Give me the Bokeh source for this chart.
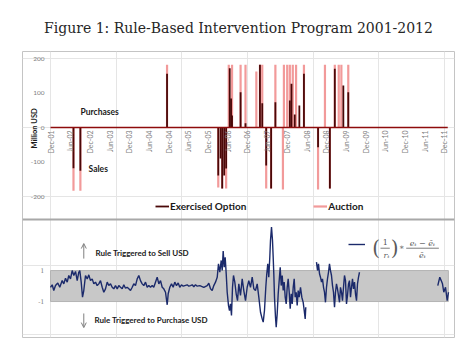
import numpy as np
from math import pi
from bokeh.plotting import figure
from bokeh.models import Range1d, Span, Label, Legend, LegendItem, Arrow, OpenHead
from bokeh.core.properties import value
from bokeh.embed import file_html
from bokeh.resources import INLINE

TITLE = "Figure 1: Rule-Based Intervention Program 2001-2012"

# x axis: months since Dec-2001
TICK_MONTHS = list(range(0, 121, 6))
TICK_LABELS = ["Dec-01", "Jun-02", "Dec-02", "Jun-03", "Dec-03", "Jun-04", "Dec-04",
               "Jun-05", "Dec-05", "Jun-06", "Dec-06", "Jun-07", "Dec-07", "Jun-08",
               "Dec-08", "Jun-09", "Dec-09", "Jun-10", "Dec-10", "Jun-11", "Dec-11"]
TOP_Y_TICKS = [200, 100, 0, -100, -200]
RULE_Y_TICKS = [1, -1]
BAND_LOW, BAND_HIGH = -1, 1

# interventions, million USD (+ purchases, - sales)
AUCTION_MONTHS = [7.0, 9.1, 35.5, 51.1, 52.3, 53.5, 54.3, 55.3, 57.9, 59.4, 62.7, 63.8, 64.5,
                  65.7, 67.2, 68.5, 70.8, 71.1, 72.1, 72.9, 73.8, 74.8, 77.2, 81.5, 83.6,
                  85.1, 86.6, 87.8, 88.6, 90.7]
AUCTION_VALUES = [-183, -183, 182, -174, -177, -177, 182, 182, 182, 182, 162, 182, 182,
                  -177, -177, 182, -180, 182, 182, 182, 182, 182, 182, -180, 182,
                  -177, 182, 182, 182, 182]
OPTION_MONTHS = [7.0, 9.1, 35.5, 51.1, 51.8, 52.3, 52.9, 53.5, 54.6, 55.0, 55.3, 57.9, 59.4,
                 63.8, 64.5, 65.7, 67.2, 68.5, 72.9, 73.4, 74.4, 75.8, 77.2, 81.5, 85.1,
                 86.6, 89.2, 90.7]
OPTION_VALUES = [-118, -125, 156, -139, -90, -177, -139, -119, 172, 84, 35, 102, 12,
                 182, 70, -110, -177, 73, 78, 127, 38, 64, 156, -57, -177,
                 170, 122, 102]

NAN = float("nan")
RULE_MONTHS = [
    0, 0.52, 1.0, 1.52, 2.22, 2.83, 3.56, 4.05, 4.57, 5.09, 5.57, 6.09, 6.61, 7.10, 7.62, 8.13,
    8.62, 8.92, 9.35, 9.75, 10.14, 10.66, 11.18, 11.67, 12.18, 12.70, 13.19, 13.71, 14.22, 14.71,
    15.23, 15.75, 16.24, 16.75, 17.27, 17.76, 18.28, 18.79, 19.28, 19.80, 20.32, 20.80, 21.32,
    21.84, 22.33, 22.84, 23.36, 23.85, 24.37, 24.89, 25.37, 25.89, 26.41, 26.90, 27.41, 27.93,
    28.42, 28.94, 29.45, 29.94, 30.46, 30.98, 31.46, 31.98, 32.50, 32.99, 33.51, 34.02, 34.51,
    35.03, 35.55, 35.85, 36.34, 36.86, 37.37, 37.86, 38.38, 38.90, 39.38, 39.90, 40.42, 40.91,
    41.64, 42.13, 42.64, 43.16, 43.65, 44.17, 44.69, 45.48, 46.70, 47.73, 48.22, 48.74, 49.25,
    49.74, 50.26, 50.78, 51.17, 51.57, 52.0, 52.30, 52.60, 52.91, 53.21, 53.52, 53.82, 54.22,
    54.52, 54.83, 55.13, 55.44, 55.74, 56.14, 56.56, 56.96, 57.36, 57.87, 58.39, 58.88, 59.40,
    59.91, 60.40, 60.92, 61.44, 61.93, 62.44, 62.96, 63.45, 63.97, 64.48, 64.79, 65.18, 65.58,
    65.88, 66.19, 66.49, 66.80, 67.01, 67.32, 67.62, 67.83, 68.02, 68.23, 68.53, 68.75, 69.05,
    69.36, 69.66, 69.97, 70.27, 70.58, 70.88, 71.18, 71.49, 71.79, 72.10, 72.40, 72.71, 73.01,
    73.32, 73.62, 73.93, 74.23, 74.53, 74.84, 75.14, 75.45, 75.75, 76.15, 76.55, 76.97, 77.28,
    77.58, 77.76,
    NAN,
    81.02, 81.33, 81.63, 81.94, 82.24, 82.55, 82.85, 83.16, 83.46, 83.76, 84.07, 84.37, 84.68,
    84.98, 85.29, 85.59, 85.90, 86.20, 86.51, 86.81, 87.11, 87.42, 87.72, 88.03, 88.33, 88.64,
    88.94, 89.25, 89.55, 89.86, 90.16, 90.47, 90.77, 91.07, 91.38, 91.68, 91.99, 92.29, 92.60,
    92.90, 93.21, 93.51, 93.82, 94.12,
    NAN,
    117.97, 118.58, 119.01, 119.40, 119.80, 120.32, 120.83, 121.23]
RULE_VALUES = [
    -0.08, 0.08, -0.29, 0.03, 0.2, -0.08, 0.35, 0.14, 0.5, 0.25, 0.68, 0.46, 1.0, 0.68, 0.94, 0.35,
    0.89, 1.0, 0.25, -0.72, -0.29, 0.68, 0.46, 0.72, 0.35, 0.46, 0.14, 0.25, 0.03, 0.14,
    0.35, -0.08, -0.4, -0.18, 0.25, 0.03, 0.14, -0.08, -0.18, 0.03, -0.18, 0.03, -0.08,
    -0.18, 0.08, -0.14, -0.08, -0.18, -0.29, -0.08, 0.14, 0.03, 0.46, 0.68, 0.35, 0.14,
    0.03, 0.25, -0.08, 0.03, -0.08, 0.03, -0.08, 0.25, 0.57, 0.14, 0.35, -0.08, -0.18,
    -0.4, -1.21, -0.5, -0.08, 0.14, -0.08, 0.25, 0.03, 0.2, -0.08, 0.08, -0.01, 0.03,
    0.08, -0.01, 0.03, 0.08, -0.05, 0.08, -0.01, 0.03, -0.08, 0.03, 0.18, -0.18, -0.29,
    0.03, 0.25, 0.57, 1.43, 0.89, 1.65, 1.0, 2.25, 1.21, 1.86, 0.79, -0.4, -1.26,
    -1.58, -1.15, -1.9, -0.08, 0.68, 0.25, -0.5, -0.94, 0.14, -0.61, 0.46, -0.29, -0.94,
    -0.08, 0.35, -0.08, 0.57, -0.18, -0.29, 0.14, -0.72, -1.69, -2.12, -2.33, -1.58, -0.08,
    0.79, 1.43, 0.57, 1.86, 2.94, 3.8, 2.94, 1.86, 0.79, -0.72, -2.0, -2.66, -1.79,
    -0.5, 0.35, 1.21, 0.03, 0.68, -0.29, 0.25, -0.72, -1.15, -0.08, 0.46, -0.4, -1.47,
    -0.5, -1.15, -0.08, 0.46, -0.72, -0.4, -1.26, -0.29, -0.72, -0.08, -0.72, -1.05, -1.58,
    -2.12, -1.37,
    NAN,
    1.54, 1.0, 1.43, 0.79, 0.57, 0.25, 0.46, -0.08, -0.4, -1.05, -0.08, 0.46, 0.89,
    1.43, 1.0, 0.68, 0.03, -0.4, -1.37, -0.4, 0.14, -0.18, -0.61, -1.05, -0.08, -0.4,
    -0.94, -0.08, 0.68, 0.35, -1.15, -0.61, 0.14, 0.35, -0.72, -0.08, 0.46, -0.18, 0.25,
    -0.5, -0.94, 0.14, 0.57, 0.89,
    NAN,
    0.03, 0.57, 0.35, 0.14, -0.4, -0.08, -0.94, -0.4]

# ---------------------------------------------------------------- figure
p = figure(width=462, height=354, output_backend="svg", toolbar_location=None,
           title=TITLE,
           x_range=Range1d(-8.53, 123.06), y_range=Range1d(-608.7, 220.3),
           x_axis_location=None, y_axis_location=None,
           min_border_left=22, min_border_right=8, min_border_top=51, min_border_bottom=17)
p.extra_y_ranges = {"rule": Range1d(-3.32, 15.13)}
p.outline_line_color = "#c4c4c4"
p.outline_line_width = 1
p.background_fill_color = "white"
p.border_fill_color = "white"
p.title.align = "center"
p.title.text_font = "DejaVu Serif"
p.title.text_font_size = "14px"
p.title.text_font_style = "normal"
p.title.text_color = "#262626"
p.title.standoff = 31

GRAY_TXT = "#808080"
BOLD_TXT = "#1a1a1a"

# separator between the two panels
p.add_layout(Span(location=-266.7, dimension="width", line_color="#a8a8a8", line_width=2))

# ------------------------------------------------ top panel: interventions
r_auc = p.segment(x0=AUCTION_MONTHS, y0=0, x1=AUCTION_MONTHS, y1=AUCTION_VALUES,
                  line_color="#f29a9a", line_width=2.2)
r_opt = p.segment(x0=OPTION_MONTHS, y0=0, x1=OPTION_MONTHS, y1=OPTION_VALUES,
                  line_color="#4a0808", line_width=1.8)
p.segment(x0=TICK_MONTHS[0], y0=0, x1=TICK_MONTHS[-1] + 1, y1=0,
          line_color="#8e0c0c", line_width=1.5)

p.text(x=TICK_MONTHS, y=[0] * len(TICK_MONTHS), text=TICK_LABELS, angle=pi / 2,
       text_align="right", text_baseline="middle", y_offset=3,
       text_font=value("Lato"), text_font_size=value("7px"), text_color=GRAY_TXT)
p.text(x=[TICK_MONTHS[0]] * len(TOP_Y_TICKS), y=TOP_Y_TICKS,
       text=[str(v) for v in TOP_Y_TICKS], x_offset=-6,
       text_align="right", text_baseline="middle",
       text_font=value("Lato"), text_font_size=value("6.5px"), text_color=GRAY_TXT)

p.add_layout(Label(x=0, y=0, x_offset=-16, angle=pi / 2, text="Million  USD",
                   text_align="center", text_baseline="middle", text_font="Lato",
                   text_font_style="bold", text_font_size="7.5px", text_color=BOLD_TXT))
p.add_layout(Label(x=9.14, y=43.5, text="Purchases", text_baseline="middle",
                   text_font="Lato", text_font_style="bold", text_font_size="8.5px",
                   text_color=BOLD_TXT))
p.add_layout(Label(x=11.6, y=-119, text="Sales", text_baseline="middle",
                   text_font="Lato", text_font_style="bold", text_font_size="8.5px",
                   text_color=BOLD_TXT))

legend_top = Legend(items=[LegendItem(label="Exercised Option", renderers=[r_opt]),
                           LegendItem(label="Auction", renderers=[r_auc])],
                    orientation="horizontal", location=(133, 125), spacing=67,
                    glyph_width=14, glyph_height=12, label_height=12, label_standoff=1,
                    padding=0, margin=0, border_line_alpha=0, background_fill_alpha=0,
                    label_text_font="Lato", label_text_font_style="bold",
                    label_text_font_size="10px", label_text_color=BOLD_TXT)
p.add_layout(legend_top, "center")

# ------------------------------------------------ bottom panel: rule indicator
p.quad(left=TICK_MONTHS[0], right=TICK_MONTHS[-1] + 1.2, bottom=BAND_LOW, top=BAND_HIGH,
       y_range_name="rule", fill_color="#c8c8c8", line_color="#b4b4b4", line_width=1)
r_rule = p.line(RULE_MONTHS, RULE_VALUES, y_range_name="rule",
                line_color="#1b2a6b", line_width=1.4)
p.text(x=[TICK_MONTHS[0]] * len(RULE_Y_TICKS), y=RULE_Y_TICKS,
       text=[str(v) for v in RULE_Y_TICKS], x_offset=-6, y_range_name="rule",
       text_align="right", text_baseline="middle",
       text_font=value("DejaVu Serif"), text_font_size=value("6.5px"), text_color=GRAY_TXT)

arrow_kw = dict(line_color="#7f7f7f", line_width=1, y_range_name="rule")
p.add_layout(Arrow(x_start=10.14, y_start=1.77, x_end=10.14, y_end=2.74,
                   end=OpenHead(size=5, line_color="#7f7f7f", line_width=1), **arrow_kw))
p.add_layout(Arrow(x_start=10.14, y_start=-1.77, x_end=10.14, y_end=-2.68,
                   end=OpenHead(size=5, line_color="#7f7f7f", line_width=1), **arrow_kw))
p.add_layout(Label(x=13.7, y=2.16, y_range_name="rule", text="Rule Triggered to Sell USD",
                   text_baseline="middle", text_font="Lato", text_font_style="bold",
                   text_font_size="8px", text_color=BOLD_TXT))
p.add_layout(Label(x=13.4, y=-2.16, y_range_name="rule", text="Rule Triggered to Purchase USD",
                   text_baseline="middle", text_font="Lato", text_font_style="bold",
                   text_font_size="8px", text_color=BOLD_TXT))

legend_bot = Legend(items=[LegendItem(label=" ", renderers=[r_rule])],
                    location=(326, 87), glyph_width=17, glyph_height=12, label_height=12,
                    label_standoff=0, padding=0, margin=0, border_line_alpha=0,
                    background_fill_alpha=0, label_text_font_size="8px")
p.add_layout(legend_bot, "center")

FORM = "#5a5a5a"
def form_label(x, y, text, size="8px", style="normal"):
    p.add_layout(Label(x=x, y=y, y_range_name="rule", text=text, text_align="center",
                       text_baseline="middle", text_font="DejaVu Serif",
                       text_font_style=style, text_font_size=size, text_color=FORM))

form_label(99.2, 2.45, "(", size="20px")
form_label(101.95, 2.83, "1")
form_label(102.34, 2.0, "rₜ", style="italic")
form_label(104.84, 2.45, ")", size="20px")
form_label(107.0, 2.48, "∗")
form_label(113.3, 2.76, "eₜ − ēₜ", style="italic")
form_label(113.3, 1.94, "ēₜ", style="italic")
p.segment(x0=[100.52, 108.35], y0=[2.44, 2.44], x1=[103.35, 118.3], y1=[2.44, 2.44],
          y_range_name="rule", line_color=FORM, line_width=0.8)

open("out.html", "w").write(file_html(p, INLINE))
